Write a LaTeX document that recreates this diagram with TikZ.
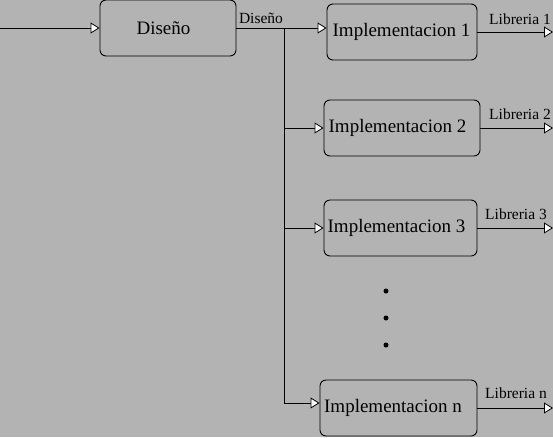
\documentclass[tikz,border=0pt]{standalone}
\usepackage{fontspec}
\setmainfont{Liberation Serif}
\usetikzlibrary{arrows.meta,calc}
\definecolor{bggray}{RGB}{179,179,179}
\begin{document}
\begin{tikzpicture}[x=1pt,y=-1pt,
  box/.style={draw=black, line width=0.9pt, rounded corners=6pt, fill=bggray,
    inner sep=0pt, font=\fontsize{19}{22}\selectfont},
  lbl/.style={inner sep=0pt, font=\fontsize{15.5}{18}\selectfont},
  conn/.style={line width=0.9pt, draw=black},
  arr/.style={conn, -{Triangle[open, fill=white, length=9pt, width=11pt, line width=0.8pt]}},
  dot/.style={circle, fill=black, inner sep=0pt, minimum size=5pt}]
\fill[bggray] (0,0) rectangle (553,437);
\useasboundingbox (0,0) rectangle (553,437);

\node[box, minimum width=136pt, minimum height=56pt] (dis) at (168,28) {Diseño\hspace*{9pt}};
\node[box, minimum width=150pt, minimum height=56pt] (im1) at (402,32) {Implementacion 1\hspace*{1pt}};
\node[box, minimum width=156pt, minimum height=56pt] (im2) at (402,128) {Implementacion 2\hspace*{9pt}};
\node[box, minimum width=153pt, minimum height=56pt] (im3) at (400.5,228) {Implementacion 3\hspace*{8pt}};
\node[box, minimum width=157pt, minimum height=56pt] (imn) at (398.5,408) {Implementacion n\hspace*{11pt}};

\coordinate (in) at (0,28);
\coordinate (j1) at (284,28);
\coordinate (jn) at (284,403);
\coordinate (j2) at (j1 |- im2.west);
\coordinate (j3) at (j1 |- im3.west);
\coordinate (o1) at (553,32);
\coordinate (o2) at (553,128);
\coordinate (o3) at (553,228);
\coordinate (on) at (553,408);

\draw[arr] (in) -- (dis.west);
\draw[conn] (dis.east) -- (j1) -- (jn);
\draw[arr] (j1) -- (j1 -| im1.west);
\draw[arr] (j2) -- (im2.west);
\draw[arr] (j3) -- (im3.west);
\draw[arr] (jn) -- (jn -| imn.west);

\draw[arr] (im1.east |- o1) -- (o1);
\draw[arr] (im2.east |- o2) -- (o2);
\draw[arr] (im3.east |- o3) -- (o3);
\draw[arr] (imn.east |- on) -- (on);

\node[lbl] (ldis) at (261,18) {Diseño};
\node[lbl] (l1) at (520,19) {Libreria 1};
\node[lbl] (l2) at (520,114) {Libreria 2};
\node[lbl] (l3) at (516,214) {Libreria 3};
\node[lbl] (ln) at (516,393) {Libreria n};

\node[dot] (d1) at (386,291) {};
\node[dot] (d2) at (386,318) {};
\node[dot] (d3) at (386,345) {};
\end{tikzpicture}
\end{document}
